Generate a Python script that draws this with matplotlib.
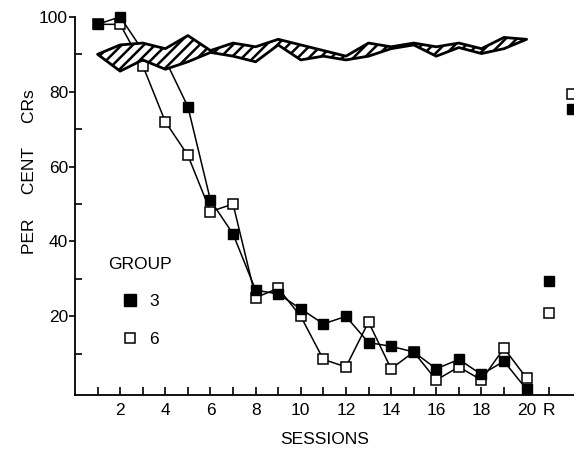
import numpy as np
import matplotlib.pyplot as plt
from matplotlib.lines import Line2D

plt.rcParams['font.family'] = ['Liberation Sans', 'DejaVu Sans']
plt.rcParams['hatch.linewidth'] = 1.8

sessions = list(range(1, 21))
group3 = [98, 100, 91, 88.5, 76, 51, 42, 27, 26, 22, 18, 20, 13, 12, 10.5, 6, 8.5, 4.5, 8, 0.5]
group6 = [98, 98, 87, 72, 63, 48, 50, 25, 27.5, 20, 8.5, 6.5, 18.5, 6, 10.5, 3, 6.5, 3, 11.5, 3.5]

# retention session "R" and the clipped points at the right edge
r_pos = 21
r_group3 = 29.5
r_group6 = 21
edge_pos = 22
edge_group3 = 75.5
edge_group6 = 79.5

# hatched band (range of the other groups)
band_a = [90, 92.5, 93, 91.5, 95, 91, 93, 92, 94, 92.5, 91, 89.5, 93, 92, 93, 92, 93, 91.5, 94.5, 94]
band_b = [90, 85.5, 88.5, 86, 88, 90.5, 89.5, 88, 92.5, 88.5, 89.5, 88.5, 89.5, 91.5, 92.5, 89.5, 91.8, 90.2, 91.5, 94]

xtick_pos = list(range(1, 22))
xtick_labels = ['' if i % 2 else str(i) for i in range(1, 21)] + ['R']

fig = plt.figure(figsize=(5.74, 4.54), dpi=100)
ax = fig.add_axes([75 / 574, 59 / 454, 499 / 574, 395 / 454])

ms_open = 7.2
ms_fill = 6.6
# both curves run under the hatched band
ax.plot(sessions, group6, color='black', lw=1.1, marker='s', ms=ms_open,
        mfc='white', mec='black', mew=1.1, zorder=1)
ax.plot(sessions, group3, color='black', lw=1.1, marker='s', ms=ms_fill,
        mfc='black', mec='black', zorder=2)
ax.fill_between(sessions, band_a, band_b, facecolor='white', edgecolor='black',
                hatch='///', linewidth=2.0, zorder=3)

ax.plot([r_pos], [r_group3], ls='none', marker='s', ms=ms_fill, mfc='black', mec='black')
ax.plot([r_pos], [r_group6], ls='none', marker='s', ms=ms_open, mfc='white', mec='black', mew=1.1)
ax.plot([edge_pos], [edge_group3], ls='none', marker='s', ms=ms_fill, mfc='black', mec='black')
ax.plot([edge_pos], [edge_group6], ls='none', marker='s', ms=ms_open, mfc='white', mec='black', mew=1.1)

ax.set_xlim(0, 22.1)
ax.set_ylim(-1, 104.5)
for side in ['top', 'right']:
    ax.spines[side].set_visible(False)
ax.spines['left'].set_bounds(-1, 100)
ax.spines['left'].set_linewidth(1.3)
ax.spines['bottom'].set_linewidth(1.3)

ax.set_xticks(xtick_pos)
ax.set_xticklabels(xtick_labels, fontsize=12.5)
ax.tick_params(axis='x', direction='in', length=6, width=1.2, pad=6)
ax.set_yticks([20, 40, 60, 80, 100])
ax.set_yticks([10, 30, 50, 70, 90], minor=True)
ax.tick_params(axis='y', which='major', direction='out', length=4, width=1.2, labelsize=12.5, pad=1)
ax.tick_params(axis='y', which='minor', direction='in', length=5, width=1.2)

ax.set_xlabel('SESSIONS', fontsize=12.5, labelpad=10)
ax.set_ylabel('PER     CENT     CRs', fontsize=12.5)
ax.yaxis.set_label_coords(-0.077, 0.565)

handles = [Line2D([], [], ls='none', marker='s', ms=ms_fill + 1.5, mfc='black', mec='black'),
           Line2D([], [], ls='none', marker='s', ms=ms_open, mfc='white', mec='black', mew=1.1)]
leg = ax.legend(handles, ['3', '6'], title='GROUP', frameon=False, fontsize=12.5,
                title_fontsize=12.5, handlelength=1, handletextpad=0.6, labelspacing=1.3,
                loc='upper left', bbox_to_anchor=(0.035, 0.39))

fig.savefig('out.png', dpi=100)
